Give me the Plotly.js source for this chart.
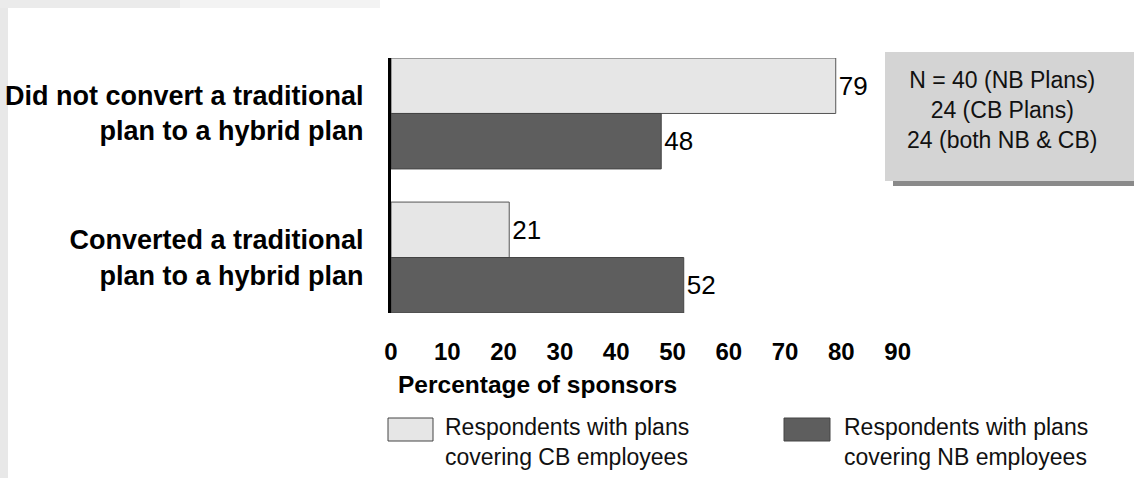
<!DOCTYPE html>
<html>
<head>
<meta charset="utf-8">
<script src="https://cdn.plot.ly/plotly-3.0.1.min.js"></script>
<style>html,body{margin:0;padding:0;background:#fff;}#chart{width:1134px;height:478px;}</style>
</head>
<body>
<div id="chart"></div>
<script>
// ---- data ----
const categories = ["Did not convert a traditional<br>plan to a hybrid plan", "Converted a traditional<br>plan to a hybrid plan"];
const seriesNames = ["Respondents with plans<br>covering CB employees", "Respondents with plans<br>covering NB employees"];
const cbValues = [79, 21];
const nbValues = [48, 52];
const xTicks = [0, 10, 20, 30, 40, 50, 60, 70, 80, 90];
const xTitle = "Percentage of sponsors";
const noteText = "N = 40 (NB Plans)<br>24 (CB Plans)<br>24 (both NB & CB)";

// ---- layout helpers (pixel -> paper) ----
const W = 1134, H = 478;
const M = {l: 391, r: 211, t: 58, b: 165};
const PW = W - M.l - M.r, PH = H - M.t - M.b;
const px = x => (x - M.l) / PW;
const py = y => (H - M.b - y) / PH;

const FONT = "Liberation Sans, Arial, Helvetica, sans-serif";
const colors = ["#e6e6e6", "#5e5e5e"];

const traces = [
  {type: "bar", orientation: "h", name: seriesNames[0], y: categories, x: cbValues,
   marker: {color: colors[0], line: {color: "#555", width: 1}},
   text: cbValues.map(String), textposition: "outside", cliponaxis: false,
   textfont: {family: FONT, size: 26, color: "#000"}, showlegend: false, hoverinfo: "x"},
  {type: "bar", orientation: "h", name: seriesNames[1], y: categories, x: nbValues,
   marker: {color: colors[1], line: {color: "#444", width: 1}},
   text: nbValues.map(String), textposition: "outside", cliponaxis: false,
   textfont: {family: FONT, size: 26, color: "#000"}, showlegend: false, hoverinfo: "x"}
];

const legendBoxes = [[388, 418, 433, 441], [784, 418, 830, 441]];
const legendTextX = [443, 842];

const shapes = [
  // scan border
  {type: "rect", xref: "paper", yref: "paper", x0: px(0), x1: px(8), y0: py(0), y1: py(478), fillcolor: "#e8e8e8", line: {width: 0}, layer: "below"},
  {type: "rect", xref: "paper", yref: "paper", x0: px(0), x1: px(180), y0: py(0), y1: py(8), fillcolor: "#ebebeb", line: {width: 0}, layer: "below"},
  {type: "rect", xref: "paper", yref: "paper", x0: px(180), x1: px(380), y0: py(0), y1: py(8), fillcolor: "#f3f3f3", line: {width: 0}, layer: "below"},
  // note box shadow + box
  {type: "rect", xref: "paper", yref: "paper", x0: px(893), x1: px(1134), y0: py(58), y1: py(186), fillcolor: "#8a8a8a", line: {width: 0}, layer: "above"},
  {type: "rect", xref: "paper", yref: "paper", x0: px(885), x1: px(1134), y0: py(52), y1: py(181), fillcolor: "#d4d4d4", line: {width: 0}, layer: "above"}
];
legendBoxes.forEach((b, i) => shapes.push({type: "rect", xref: "paper", yref: "paper",
  x0: px(b[0]), x1: px(b[2]), y0: py(b[1]), y1: py(b[3]), fillcolor: colors[i], line: {color: "#444", width: 1}}));

const annotations = [
  {xref: "paper", yref: "paper", x: px(1002), y: py(110), xanchor: "center", yanchor: "middle",
   text: noteText, showarrow: false, align: "center", font: {family: FONT, size: 23, color: "#111"}},
  {xref: "paper", yref: "paper", x: px(396), y: py(384), xanchor: "left", yanchor: "middle",
   text: "<b>" + xTitle + "</b>", showarrow: false, font: {family: FONT, size: 24.5, color: "#000"}}
];
seriesNames.forEach((n, i) => annotations.push({xref: "paper", yref: "paper", x: px(legendTextX[i]), y: py(442),
  xanchor: "left", yanchor: "middle", align: "left", text: n, showarrow: false,
  font: {family: FONT, size: 23, color: "#111"}}));

const layout = {
  width: W, height: H,
  margin: M,
  paper_bgcolor: "#fff", plot_bgcolor: "rgba(0,0,0,0)",
  barmode: "group", bargap: 0.23, bargroupgap: 0,
  showlegend: false,
  xaxis: {range: [0, 94.5], tickvals: xTicks, ticktext: xTicks.map(String), showgrid: false, zeroline: false,
    showline: false, ticks: "outside", ticklen: 17, tickcolor: "rgba(0,0,0,0)",
    tickfont: {family: FONT, size: 24, color: "#000", weight: "bold"}},
  yaxis: {type: "category", categoryorder: "array", categoryarray: categories, range: [1.385, -0.385],
    showgrid: false, zeroline: false, showline: true, linecolor: "#000", linewidth: 3,
    ticks: "outside", ticklen: 19, tickcolor: "rgba(0,0,0,0)",
    tickfont: {family: FONT, size: 27, color: "#000", weight: "bold"}},
  shapes: shapes,
  annotations: annotations
};

Plotly.newPlot("chart", traces, layout, {displayModeBar: false, staticPlot: true});
</script>
</body>
</html>
